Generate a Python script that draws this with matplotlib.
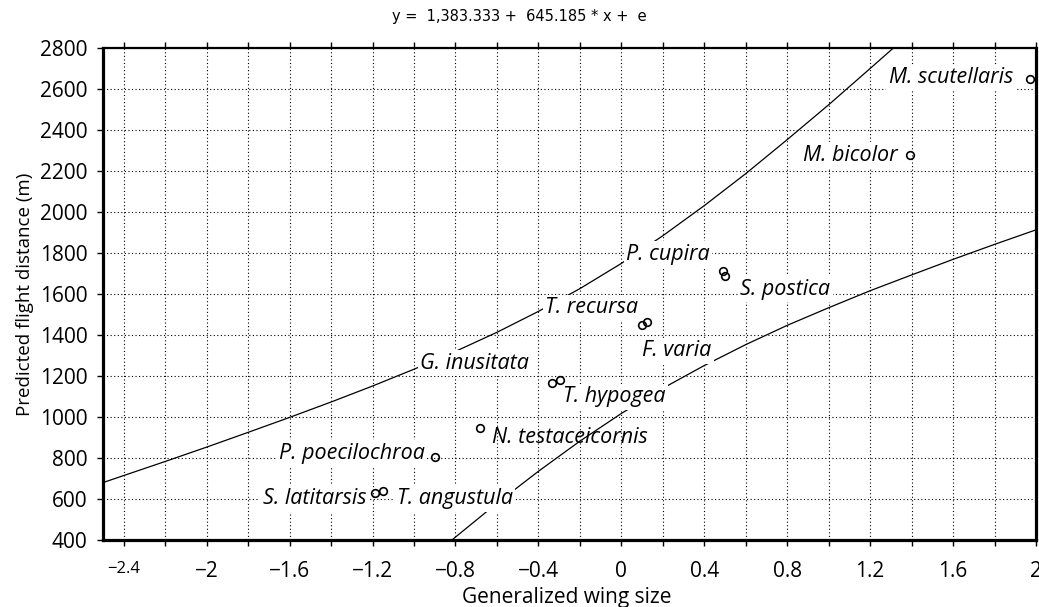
import numpy as np
import matplotlib
matplotlib.use('Agg')
import matplotlib.pyplot as plt

# species (paired species sit almost on top of each other)
species = ['M. scutellaris', 'M. bicolor', 'P. cupira', 'S. postica',
           'T. recursa', 'F. varia', 'G. inusitata', 'T. hypogea',
           'N. testaceicornis', 'P. poecilochroa', 'S. latitarsis', 'T. angustula']
wing_size = [1.97, 1.39, 0.49, 0.50, 0.10, 0.125, -0.333, -0.294,
             -0.68, -0.90, -1.186, -1.147]
flight_dist = [2650, 2280, 1710, 1690, 1450, 1463, 1168, 1180,
               945, 805, 628, 640]

# upper / lower band curves
upper_x = [-2.5, -2.2, -2.0, -1.8, -1.6, -1.4, -1.2, -1.0, -0.8, -0.6, -0.4,
           -0.2, 0.0, 0.2, 0.4, 0.6, 0.8, 1.0, 1.2, 1.32]
upper_y = [680, 783, 853, 925, 998, 1073, 1151, 1233, 1320, 1413, 1515,
           1626, 1749, 1884, 2031, 2187, 2353, 2523, 2700, 2807]
lower_x = [-0.9, -0.8, -0.6, -0.4, -0.2, 0.0, 0.2, 0.4, 0.6, 0.8, 1.0,
           1.2, 1.4, 1.6, 1.8, 2.0]
lower_y = [329, 414, 579, 735, 882, 1017, 1140, 1251, 1353, 1447, 1533,
           1616, 1693, 1769, 1842, 1913]

xtick_pos = [-2.4, -2.2, -2.0, -1.8, -1.6, -1.4, -1.2, -1.0, -0.8, -0.6, -0.4,
             -0.2, 0.0, 0.2, 0.4, 0.6, 0.8, 1.0, 1.2, 1.4, 1.6, 1.8, 2.0]
xtick_lab = ['\u22122.4', '', '\u22122', '', '\u22121.6', '', '\u22121.2', '',
             '\u22120.8', '', '\u22120.4', '', '0', '', '0.4', '', '0.8', '',
             '1.2', '', '1.6', '', '2']
ytick_pos = [400, 600, 800, 1000, 1200, 1400, 1600, 1800, 2000, 2200, 2400, 2600, 2800]

# label anchors (data coords) and alignment
label_pos = {
    'M. scutellaris': (1.89, 2654, 'right'),
    'M. bicolor': (1.335, 2278, 'right'),
    'P. cupira': (0.024, 1795, 'left'),
    'S. postica': (0.573, 1624, 'left'),
    'T. recursa': (-0.366, 1532, 'left'),
    'F. varia': (0.101, 1322, 'left'),
    'G. inusitata': (-0.969, 1263, 'left'),
    'T. hypogea': (-0.28, 1098, 'left'),
    'N. testaceicornis': (-0.622, 902, 'left'),
    'P. poecilochroa': (-0.949, 824, 'right'),
    'S. latitarsis': (-1.229, 600, 'right'),
    'T. angustula': (-1.084, 600, 'left'),
}

fig = plt.figure(figsize=(10.39, 6.07), dpi=100)
ax = fig.add_axes([0.0991, 0.1104, 0.898, 0.8105])
ax.set_xlim(-2.5, 2.0)
ax.set_ylim(400, 2800)

# grid
for xv in xtick_pos:
    ax.axvline(xv, color='black', lw=0.8, ls=(0, (1, 2.2)), zorder=0)
for yv in ytick_pos:
    ax.axhline(yv, color='black', lw=0.8, ls=(0, (1, 2.2)), zorder=0)

# band curves
ax.plot(upper_x, upper_y, color='black', lw=0.9, zorder=1)
ax.plot(lower_x, lower_y, color='black', lw=0.9, zorder=1)

# points
ax.plot(wing_size, flight_dist, 'o', ms=5.5, mfc='none', mec='black', mew=1.2,
        zorder=4, clip_on=False)

# species labels
for name in species:
    lx, ly, ha = label_pos[name]
    if name == 'N. testaceicornis':
        ax.text(lx, ly, name, ha=ha, va='center', fontsize=15.5, style='italic',
                family='Open Sans', zorder=0.5)
    else:
        ax.text(lx, ly, name, ha=ha, va='center', fontsize=15.5, style='italic',
                family='Open Sans', zorder=3,
                bbox=dict(boxstyle='square,pad=0.12', facecolor='white',
                          edgecolor='none'))

# axes styling
ax.set_xticks(xtick_pos)
ax.set_xticklabels(xtick_lab, family='Open Sans', fontsize=15)
ax.get_xticklabels()[0].set_fontsize(12)
ax.set_yticks(ytick_pos)
ax.set_yticklabels([str(v) for v in ytick_pos], family='Open Sans', fontsize=15)
ax.tick_params(axis='x', direction='out', length=4, width=1, pad=11,
               top=True, bottom=True)
ax.tick_params(axis='y', direction='out', length=4, width=1, pad=7,
               left=True, right=False)
for s in ['left', 'bottom', 'right']:
    ax.spines[s].set_linewidth(2.3)
ax.spines['top'].set_linewidth(1.6)

ax.set_ylabel('Predicted flight distance (m)', family='Open Sans', fontsize=13.5,
              labelpad=4)
fig.text(0.545, 0.016, 'Generalized wing size', family='Open Sans', fontsize=15,
         ha='center', va='center')
fig.text(0.5, 0.973, 'y =  1,383.333 +  645.185 * x +  e', family='DejaVu Sans',
         fontsize=10.5, ha='center', va='center')

fig.savefig('out.png', dpi=100, facecolor='white')
